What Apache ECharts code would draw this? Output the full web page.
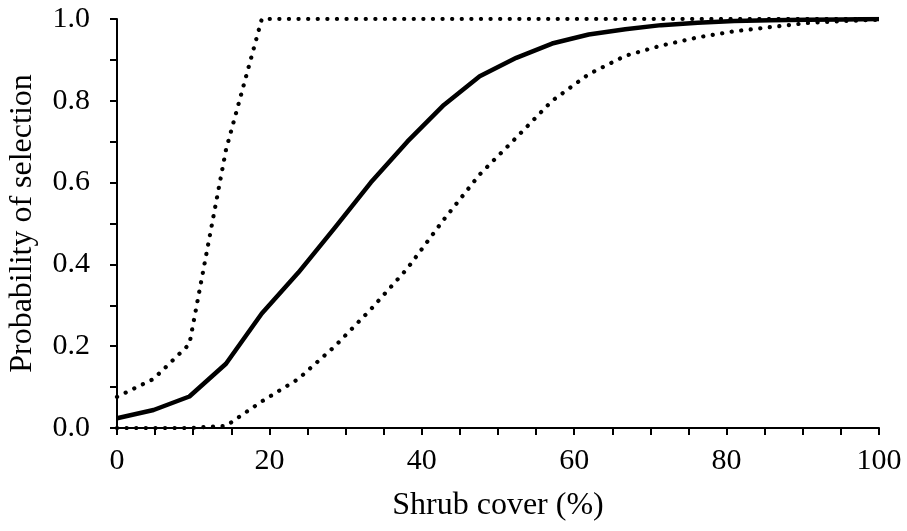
<!DOCTYPE html>
<html>
<head>
<meta charset="utf-8">
<script src="https://cdn.jsdelivr.net/npm/echarts@6/dist/echarts.min.js"></script>
<style>
    html, body { margin: 0; padding: 0; background: #fff; }
    #chart { width: 907px; height: 531px; }
</style>
</head>
<body>
<div id="chart"></div>
<script>
// shrub cover (%) at each fitted point
var cover = [0, 4.8, 9.5, 14.3, 19, 23.8, 28.6, 33.3, 38.1, 42.9, 47.6,
    52.4, 57.1, 61.9, 66.7, 71.4, 76.2, 81, 85.7, 90.5, 95.2, 100];
// fitted probability
var fitted = [0.024, 0.044, 0.077, 0.157, 0.28, 0.38, 0.49, 0.60, 0.70, 0.79, 0.86,
    0.905, 0.94, 0.962, 0.975, 0.985, 0.991, 0.995, 0.997, 0.998, 0.999, 1.0];
// upper and lower bounds
var upper = [0.076, 0.12, 0.205, 0.68, 1.0, 1.0, 1.0, 1.0, 1.0, 1.0, 1.0,
    1.0, 1.0, 1.0, 1.0, 1.0, 1.0, 1.0, 1.0, 1.0, 1.0, 1.0];
var lower = [0, 0, 0, 0.005, 0.065, 0.12, 0.20, 0.29, 0.39, 0.51, 0.62,
    0.71, 0.80, 0.865, 0.91, 0.935, 0.955, 0.97, 0.98, 0.99, 0.995, 0.998];

var xLabels = [0, 20, 40, 60, 80, 100];
var yLabels = [0, 0.2, 0.4, 0.6, 0.8, 1.0];

function pairs(xs, ys) {
    var out = [];
    xs.forEach(function (item, index) {
        out.push([item, ys[index]]);
    });
    return out;
}

function lineSeries(name, values, dotted) {
    return {
        name: name,
        type: 'line',
        data: pairs(cover, values),
        symbol: 'none',
        smooth: false,
        lineStyle: dotted ? {
            color: '#000', width: 4.2, type: [0.1, 9.5], cap: 'round'
        } : {
            color: '#000', width: 4.5, join: 'round'
        },
        z: dotted ? 2 : 3
    };
}

var fontFamily = '"Liberation Serif", "Times New Roman", serif';
var myChart = echarts.init(document.getElementById('chart'));

var option = {
    animation: false,
    backgroundColor: '#fff',
    grid: { left: 117, right: 28, top: 19, bottom: 103, outerBoundsMode: 'none' },
    xAxis: {
        type: 'value',
        min: 0,
        max: 100,
        interval: 5,
        name: 'Shrub cover (%)',
        nameLocation: 'middle',
        nameGap: 62,
        nameTextStyle: { fontFamily: fontFamily, fontSize: 32, color: '#000' },
        axisLine: { lineStyle: { color: '#000', width: 2 } },
        axisTick: { length: 7, lineStyle: { color: '#000', width: 2 } },
        splitLine: { show: false },
        axisLabel: {
            margin: 18,
            fontFamily: fontFamily,
            fontSize: 30,
            color: '#000',
            formatter: function (v) {
                return xLabels.indexOf(v) >= 0 ? String(v) : '';
            }
        }
    },
    yAxis: {
        type: 'value',
        min: 0,
        max: 1,
        interval: 0.1,
        name: 'Probability of selection',
        nameLocation: 'middle',
        nameGap: 78,
        nameTextStyle: { fontFamily: fontFamily, fontSize: 32, color: '#000' },
        axisLine: { show: true, lineStyle: { color: '#000', width: 2 } },
        axisTick: { show: true, length: 7, lineStyle: { color: '#000', width: 2 } },
        splitLine: { show: false },
        axisLabel: {
            margin: 27,
            fontFamily: fontFamily,
            fontSize: 30,
            color: '#000',
            formatter: function (v) {
                var r = Math.round(v * 10) / 10;
                for (var i = 0; i < yLabels.length; i++) {
                    if (Math.abs(yLabels[i] - r) < 1e-6) return r.toFixed(1);
                }
                return '';
            }
        }
    },
    series: [
        lineSeries('Upper', upper, true),
        lineSeries('Lower', lower, true),
        lineSeries('Fitted', fitted, false)
    ]
};

myChart.setOption(option);
</script>
</body>
</html>
